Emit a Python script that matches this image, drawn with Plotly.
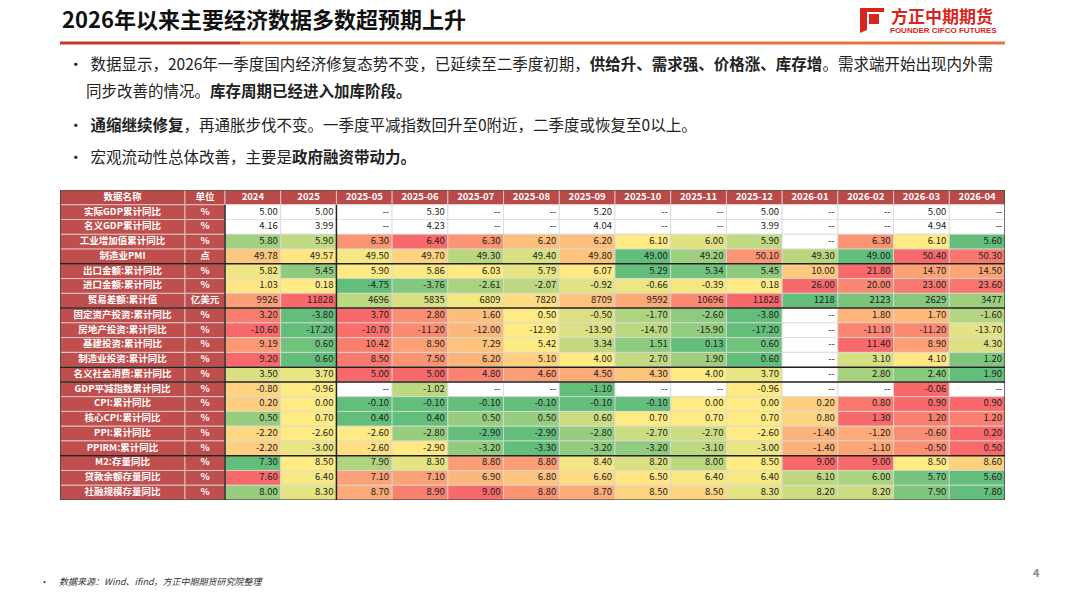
import plotly.graph_objects as go
import numpy as np

W, H = 1067, 600
columns = ["2024","2025","2025-05","2025-06","2025-07","2025-08","2025-09","2025-10","2025-11","2025-12","2026-01","2026-02","2026-03","2026-04"]
names = ["实际GDP累计同比","名义GDP累计同比","工业增加值累计同比","制造业PMI","出口金额:累计同比","进口金额:累计同比","贸易差额:累计值",
         "固定资产投资:累计同比","房地产投资:累计同比","基建投资:累计同比","制造业投资:累计同比","名义社会消费:累计同比",
         "GDP平减指数累计同比","CPI:累计同比","核心CPI:累计同比","PPI:累计同比","PPIRM:累计同比","M2:存量同比","贷款余额存量同比","社融规模存量同比"]
units = ["%","%","%","点","%","%","亿美元","%","%","%","%","%","%","%","%","%","%","%","%","%"]
N = None
values = [
 [5.00,5.00,N,5.30,N,N,5.20,N,N,5.00,N,N,5.00,N],
 [4.16,3.99,N,4.23,N,N,4.04,N,N,3.99,N,N,4.94,N],
 [5.80,5.90,6.30,6.40,6.30,6.20,6.20,6.10,6.00,5.90,N,6.30,6.10,5.60],
 [49.78,49.57,49.50,49.70,49.30,49.40,49.80,49.00,49.20,50.10,49.30,49.00,50.40,50.30],
 [5.82,5.45,5.90,5.86,6.03,5.79,6.07,5.29,5.34,5.45,10.00,21.80,14.70,14.50],
 [1.03,0.18,-4.75,-3.76,-2.61,-2.07,-0.92,-0.66,-0.39,0.18,26.00,20.00,23.00,23.60],
 [9926,11828,4696,5835,6809,7820,8709,9592,10696,11828,1218,2123,2629,3477],
 [3.20,-3.80,3.70,2.80,1.60,0.50,-0.50,-1.70,-2.60,-3.80,N,1.80,1.70,-1.60],
 [-10.60,-17.20,-10.70,-11.20,-12.00,-12.90,-13.90,-14.70,-15.90,-17.20,N,-11.10,-11.20,-13.70],
 [9.19,0.60,10.42,8.90,7.29,5.42,3.34,1.51,0.13,0.60,N,11.40,8.90,4.30],
 [9.20,0.60,8.50,7.50,6.20,5.10,4.00,2.70,1.90,0.60,N,3.10,4.10,1.20],
 [3.50,3.70,5.00,5.00,4.80,4.60,4.50,4.30,4.00,3.70,N,2.80,2.40,1.90],
 [-0.80,-0.96,N,-1.02,N,N,-1.10,N,N,-0.96,N,N,-0.06,N],
 [0.20,0.00,-0.10,-0.10,-0.10,-0.10,-0.10,-0.10,0.00,0.00,0.20,0.80,0.90,0.90],
 [0.50,0.70,0.40,0.40,0.50,0.50,0.60,0.70,0.70,0.70,0.80,1.30,1.20,1.20],
 [-2.20,-2.60,-2.60,-2.80,-2.90,-2.90,-2.80,-2.70,-2.70,-2.60,-1.40,-1.20,-0.60,0.20],
 [-2.20,-3.00,-2.60,-2.90,-3.20,-3.30,-3.20,-3.20,-3.10,-3.00,-1.40,-1.10,-0.50,0.50],
 [7.30,8.50,7.90,8.30,8.80,8.80,8.40,8.20,8.00,8.50,9.00,9.00,8.50,8.60],
 [7.60,6.40,7.10,7.10,6.90,6.80,6.60,6.50,6.40,6.40,6.10,6.00,5.70,5.60],
 [8.00,8.30,8.70,8.90,9.00,8.80,8.70,8.50,8.50,8.30,8.20,8.20,7.90,7.80],
]
uncolored_rows = {0, 1}
group_ends = [3, 6, 10, 11, 16]

RED, YEL, GRN = (248,105,107), (255,235,132), (99,190,123)
def mix(a, b, t):
    return "rgb(%d,%d,%d)" % tuple(round(a[i]+(b[i]-a[i])*t) for i in range(3))
def color(v, row):
    nums = [x for x in row if x is not None]
    lo, hi, md = min(nums), max(nums), float(np.percentile(nums, 50))
    if v <= md:
        t = 0 if md == lo else (v-lo)/(md-lo)
        return mix(GRN, YEL, t)
    t = 0 if hi == md else (v-md)/(hi-md)
    return mix(YEL, RED, t)

F = "Noto Sans CJK SC"
LAB, HDR, GRID = "#BF4E4C", "#B94A48", "#D9D9D9"
OFF = 8  # page body margin
W2, H2 = W - OFF, H - OFF
T, B, L, R = 190, 500, 60, 1005
colw = [125, 40] + [(R - L - 165) / len(columns)] * len(columns)
edges = np.concatenate([[0], np.cumsum(colw)])
nrows = len(names) + 1

shapes = []
def cell(c, r, fill):
    shapes.append(dict(type="rect", xref="x", yref="y", x0=edges[c], x1=edges[c+1], y0=r, y1=r+1,
                       fillcolor=fill, line=dict(color=GRID, width=0.8), layer="below"))

hx, hy, ht = [], [], []
lx, ly, lt = [], [], []
nx, ny, nt = [], [], []
for c in range(len(colw)):
    cell(c, 0, HDR)
    hx.append((edges[c]+edges[c+1])/2); hy.append(0.5)
    ht.append("<b>%s</b>" % (["数据名称", "单位"] + columns)[c])
for i, row in enumerate(values):
    r = i + 1
    for c in (0, 1):
        cell(c, r, LAB)
        lx.append((edges[c]+edges[c+1])/2); ly.append(r+0.5)
        lt.append("<b>%s</b>" % (names[i] if c == 0 else units[i]))
    for j, v in enumerate(row):
        c = j + 2
        if v is None:
            cell(c, r, "white"); s = "--"
        else:
            cell(c, r, "white" if i in uncolored_rows else color(v, row))
            s = f"{v:.0f}" if units[i] == "亿美元" else f"{v:.2f}"
        nx.append(edges[c+1] - 3); ny.append(r+0.5); nt.append(s)

fig = go.Figure()
fig.add_trace(go.Scatter(x=hx, y=hy, text=ht, mode="text", textposition="middle center",
                         textfont=dict(color="white", size=9.5, family=F), hoverinfo="skip"))
fig.add_trace(go.Scatter(x=lx, y=ly, text=lt, mode="text", textposition="middle center",
                         textfont=dict(color="white", size=9.5, family=F), hoverinfo="skip"))
fig.add_trace(go.Scatter(x=nx, y=ny, text=nt, mode="text", textposition="middle left",
                         textfont=dict(color="#222", size=9.5, family=F), hoverinfo="skip"))

for g in group_ends:
    y = g + 2
    shapes.append(dict(type="line", xref="x", yref="y", x0=0, x1=edges[-1], y0=y, y1=y, line=dict(color="#222", width=1.5)))
for c in (2, 4):
    shapes.append(dict(type="line", xref="x", yref="y", x0=edges[c], x1=edges[c], y0=1, y1=nrows, line=dict(color="#222", width=1.5)))
shapes.append(dict(type="rect", xref="x", yref="y", x0=0, x1=edges[-1], y0=0, y1=nrows, line=dict(color="#222", width=1.2)))

def px(x): return (x - OFF) / W2
def py(y): return 1 - (y - OFF) / H2
shapes.append(dict(type="line", xref="paper", yref="paper", x0=px(60), x1=px(240), y0=py(43), y1=py(43), line=dict(color="#C0392B", width=3)))
shapes.append(dict(type="line", xref="paper", yref="paper", x0=px(240), x1=px(1005), y0=py(43), y1=py(43), line=dict(color="#E8743B", width=3)))
shapes.append(dict(type="path", xref="paper", yref="paper",
    path=f"M {px(860)},{py(5)} L {px(884)},{py(5)} L {px(884)},{py(12)} L {px(867)},{py(12)} L {px(867)},{py(30)} L {px(860)},{py(33)} Z",
    fillcolor="#D7261E", line=dict(width=0)))
shapes.append(dict(type="path", xref="paper", yref="paper",
    path=f"M {px(869)},{py(14)} L {px(879)},{py(14)} L {px(879)},{py(24)} L {px(869)},{py(24)} Z",
    fillcolor="#D7261E", line=dict(width=0)))

ann = [
    dict(x=px(60), y=py(18), text="<b>2026年以来主要经济数据多数超预期上升</b>", font=dict(size=22, color="#111", family=F), xanchor="left"),
    dict(x=px(889), y=py(15), text="<b>方正中期期货</b>", font=dict(size=17, color="#D7261E", family=F), xanchor="left"),
    dict(x=px(888), y=py(30), text="<b>FOUNDER CIFCO FUTURES</b>", font=dict(size=8, color="#D7261E", family="Liberation Sans"), xanchor="left"),
    dict(x=px(66), y=py(63), text="•  数据显示，2026年一季度国内经济修复态势不变，已延续至二季度初期，<b>供给升、需求强、价格涨、库存增</b>。需求端开始出现内外需", font=dict(size=15.5, color="#222", family=F), xanchor="left"),
    dict(x=px(84), y=py(90), text="同步改善的情况。<b>库存周期已经进入加库阶段。</b>", font=dict(size=15.5, color="#222", family=F), xanchor="left"),
    dict(x=px(66), y=py(124), text="•  <b>通缩继续修复</b>，再通胀步伐不变。一季度平减指数回升至0附近，二季度或恢复至0以上。", font=dict(size=15.5, color="#222", family=F), xanchor="left"),
    dict(x=px(66), y=py(156), text="•  宏观流动性总体改善，主要是<b>政府融资带动力。</b>", font=dict(size=15.5, color="#222", family=F), xanchor="left"),
    dict(x=px(38), y=py(581), text="•     <i>数据来源：Wind、ifind，方正中期期货研究院整理</i>", font=dict(size=9, color="#333", family=F), xanchor="left"),
    dict(x=px(1036), y=py(572), text="<b>4</b>", font=dict(size=11, color="#888", family=F), xanchor="center"),
]
for a in ann:
    a.update(xref="paper", yref="paper", showarrow=False, yanchor="middle")

fig.update_layout(width=W, height=H, margin=dict(l=0, r=OFF, t=0, b=OFF), paper_bgcolor="white", plot_bgcolor="white",
                  showlegend=False, shapes=shapes, annotations=ann,
                  xaxis=dict(domain=[px(L), px(R)], range=[0, edges[-1]], visible=False, fixedrange=True),
                  yaxis=dict(domain=[py(B), py(T)], range=[nrows, 0], visible=False, fixedrange=True))
fig.write_html("out.html")
